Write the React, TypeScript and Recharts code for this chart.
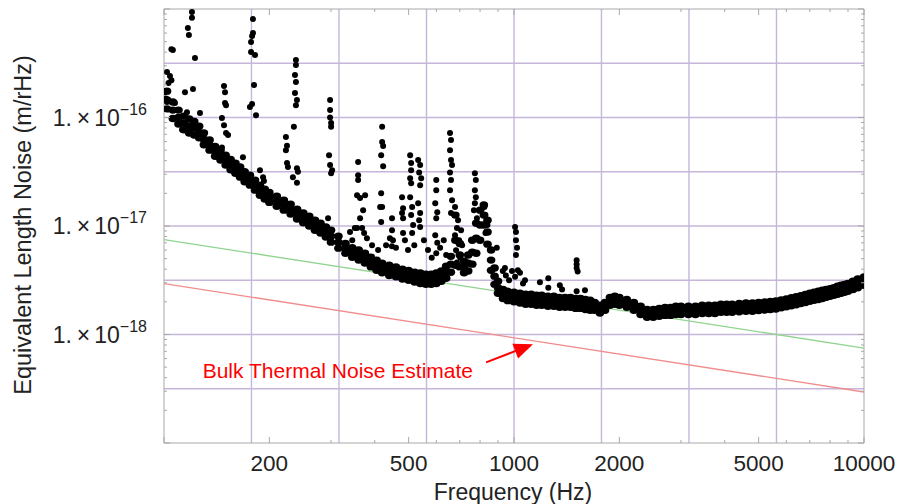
import { ComposedChart, Scatter, Line, XAxis, YAxis, ReferenceLine, Label } from "recharts"

// noise values below are in units of 1e-18 m/rHz
const UNIT = 1e-18

// measured spectrum: the dense floor, read as upper edge / middle / lower edge of the band
const bandFreq = [
  102, 106, 110, 114, 118, 122, 126, 130, 135, 140, 145, 150, 155, 160, 165, 170, 176, 182, 188, 194,
  200, 210, 220, 230, 240, 250, 260, 270, 280, 290, 300, 315, 330, 345, 360, 375, 390, 405, 420, 440,
  460, 480, 500, 520, 540, 560, 580, 600, 620, 640, 660, 680, 700, 720, 740, 760, 780, 800, 820, 840,
  860, 880, 900, 930, 960, 1000, 1040, 1080, 1120, 1160, 1200, 1250, 1300, 1350, 1400, 1450, 1500, 1550, 1600, 1650,
  1700, 1760, 1820, 1880, 1940, 2000, 2100, 2200, 2300, 2400, 2500, 2600, 2700, 2800, 2900, 3000, 3150, 3300, 3450, 3600,
  3750, 3900, 4050, 4200, 4400, 4600, 4800, 5000, 5200, 5400, 5600, 5800, 6000, 6200, 6400, 6600, 6800, 7000, 7200, 7400,
  7600, 7800, 8000, 8200, 8400, 8600, 8800, 9000, 9300, 9600, 10000,
]
const bandHi = [
  175, 139, 117, 103, 97, 92, 83, 72, 62, 54, 50, 45, 41, 38, 35, 31.6, 29.4, 26.5, 23.8, 21.8,
  20.4, 18.8, 17.3, 15.9, 14.3, 13.2, 12.3, 11.3, 10.6, 9.8, 9.15, 8.05, 6.9, 6.3, 6.0, 5.6, 5.15, 4.85, 4.55, 4.35,
  4.2, 4.0, 3.9, 3.75, 3.7, 3.6, 3.6, 3.7, 3.85, 4.25, 5.25, 12.6, 6.9, 4.75, 5.4, 7.4, 10.6, 14, 15.6, 11.3,
  6.0, 4.1, 3.1, 2.6, 2.5, 2.45, 2.4, 2.35, 2.35, 2.3, 2.3, 2.25, 2.25, 2.2, 2.2, 2.2, 2.15, 2.15, 2.1, 2.07,
  1.97, 1.86, 1.97, 2.2, 2.25, 2.2, 2.1, 1.97, 1.82, 1.7, 1.7, 1.74, 1.78, 1.78, 1.82, 1.82, 1.82, 1.82, 1.86, 1.86,
  1.86, 1.9, 1.9, 1.9, 1.93, 1.95, 1.95, 1.97, 1.99, 2.02, 2.04, 2.08, 2.13, 2.18, 2.23, 2.28, 2.34, 2.4, 2.45, 2.5,
  2.56, 2.6, 2.65, 2.7, 2.78, 2.84, 2.9, 2.95, 3.1, 3.25, 3.4,
]
const bandMid = [
  145, 117, 100, 89, 83, 80, 73, 63, 55.6, 49, 45, 40.5, 37, 34, 31.2, 28.4, 26.5, 23.8, 21.4, 19.6,
  18.3, 16.9, 15.6, 14.3, 12.9, 11.8, 11.1, 10.2, 9.55, 8.8, 8.05, 7.1, 6.25, 5.75, 5.4, 5.05, 4.65, 4.35, 4.1, 3.9,
  3.75, 3.6, 3.5, 3.35, 3.3, 3.25, 3.25, 3.3, 3.45, 3.75, 4.45, 7.4, 5.4, 4.2, 4.55, 5.75, 7.7, 10.2, 12.6, 8.8,
  4.85, 3.45, 2.7, 2.35, 2.25, 2.2, 2.15, 2.1, 2.1, 2.07, 2.07, 2.02, 2.02, 1.97, 1.97, 1.97, 1.93, 1.93, 1.9, 1.86,
  1.82, 1.72, 1.82, 2.02, 2.07, 2.02, 1.93, 1.82, 1.67, 1.56, 1.56, 1.6, 1.63, 1.63, 1.67, 1.67, 1.67, 1.67, 1.7, 1.7,
  1.7, 1.74, 1.74, 1.74, 1.77, 1.79, 1.79, 1.81, 1.83, 1.86, 1.88, 1.92, 1.96, 2.0, 2.05, 2.1, 2.15, 2.2, 2.25, 2.3,
  2.35, 2.4, 2.45, 2.5, 2.56, 2.6, 2.65, 2.7, 2.84, 2.95, 3.1,
]
const bandLo = [
  120, 98, 87, 77, 72, 69, 65, 56, 50, 44, 40.5, 36.4, 33, 30.6, 28.2, 25.6, 23.8, 21.4, 19.2, 17.7,
  16.5, 15.2, 14.0, 12.9, 11.6, 10.7, 10.0, 9.15, 8.6, 7.9, 7.1, 6.25, 5.6, 5.15, 4.85, 4.55, 4.2, 3.9, 3.7, 3.5,
  3.4, 3.25, 3.16, 3.05, 2.95, 2.9, 2.9, 2.95, 3.1, 3.3, 3.75, 4.35, 4.2, 3.7, 3.85, 4.45, 5.6, 7.4, 10.2, 6.8,
  3.9, 2.9, 2.4, 2.15, 2.05, 2.0, 1.95, 1.9, 1.9, 1.86, 1.86, 1.82, 1.82, 1.78, 1.78, 1.78, 1.74, 1.74, 1.7, 1.67,
  1.67, 1.58, 1.67, 1.86, 1.9, 1.86, 1.78, 1.67, 1.53, 1.44, 1.44, 1.47, 1.5, 1.5, 1.53, 1.53, 1.53, 1.53, 1.56, 1.56,
  1.56, 1.6, 1.6, 1.6, 1.62, 1.64, 1.64, 1.66, 1.68, 1.7, 1.72, 1.76, 1.8, 1.84, 1.88, 1.93, 1.97, 2.02, 2.07, 2.1,
  2.15, 2.2, 2.25, 2.3, 2.35, 2.4, 2.45, 2.5, 2.6, 2.7, 2.84,
]

// resonance lines and scattered points standing above the floor: [Hz, noise]
const spikes: [number, number][] = [
  [106, 419], [105, 425], [102, 262], [104, 241], [105, 221], [103, 208], [100.7, 171], [101.3, 150], [102, 139],
  [107.5, 136], [114.8, 171], [120.2, 938], [120.2, 830], [117, 668], [117.8, 576], [122.6, 354], [121, 183],
  [116.3, 112], [126.7, 110], [112.6, 77], [148.4, 195], [149.4, 171], [149.4, 136], [150.4, 130], [146.4, 99],
  [148.4, 85], [150.4, 72], [152.4, 69], [146.4, 53], [168.1, 43], [179.6, 808], [179.6, 601], [178.5, 564],
  [177.3, 497], [177.3, 401], [182, 377], [180.8, 199], [176, 125], [178.5, 133], [183.2, 105], [188, 32.7],
  [191.9, 28.2], [193, 26], [238.2, 339], [238.2, 304], [236.7, 246], [238.2, 212], [236.7, 168], [239.8, 145],
  [238.2, 130], [235, 82], [223, 66], [224.6, 55], [223, 50], [224.6, 38], [226, 35], [239.8, 34], [241.4, 31.6],
  [233.5, 28.2], [239.8, 25], [298.2, 145], [298.2, 117], [298.2, 100], [300.2, 89], [300.2, 82], [296.2, 45],
  [298.2, 36.4], [302.2, 32.7], [300.2, 30.6], [294.3, 11.8],
  [358.6, 38.8], [358.6, 29.4], [358.6, 26.5], [356.2, 19.2], [363.3, 18.1], [375.5, 19.2], [370.6, 14],
  [363.3, 11.8], [356.2, 9.6], [368.2, 9.6], [373, 8.6],
  [420, 82], [420, 59.5], [422.8, 54.5], [417.3, 45], [422.8, 35.6], [417.3, 20], [414.5, 15], [420, 15], [417.3, 10.9],
  [448.2, 11.8], [448.2, 9.15], [451, 7.4], [448, 6.5],
  [478.8, 18.4], [482, 14.6], [478.8, 13.2], [482, 11.8], [482, 8.6],
  [505, 45], [508.3, 38], [508.3, 32.7], [505, 27.5], [508.3, 24.8], [505, 18.4], [511.7, 15], [508.3, 12.6],
  [515, 10.2], [511.7, 8.6],
  [532.3, 40.5], [539.3, 36.4], [535.8, 31.2], [543, 27.5], [539.3, 23.8], [532.3, 16.2], [539.3, 13.2],
  [535.8, 11.3], [539.3, 9.8],
  [599.6, 26.5], [599.6, 21.4], [595.6, 16.2], [603.6, 13.4], [599.6, 11.8], [595.6, 8.2], [603.6, 7], [599.6, 5.6],
  [656.4, 72], [660.8, 62], [656.4, 50], [660.8, 40.5], [665.2, 36.4], [656.4, 31.2], [660.8, 26.5], [656.4, 21.4],
  [665.2, 17.3], [660.8, 13.2],
  [678.4, 15], [683, 12.6], [692, 11.3], [687, 9.6], [678.4, 8.2], [697, 7.4], [706, 9.15], [711, 6.65],
  [683, 5.98], [702, 5.1], [715, 4.6], [687, 4.6],
  [773, 30.6], [778, 26.5], [773, 21.4], [778, 18.4], [773, 16.2], [768, 14], [783.5, 11.8],
  [823, 15], [828.6, 12.6], [839.7, 10.2], [828.6, 8.6],
  [893, 6.3], [929, 3.85], [948, 3.5], [987, 3.85], [968, 3.16],
  [1007, 9.8], [1013, 8.8], [1013, 7.4], [1020, 6.3], [1013, 5.4], [942, 4.1], [1026, 3.9], [1007, 3.4],
  [1040, 3.7], [1061, 2.95], [1075, 3.16],
  [1253, 3.3], [1253, 2.7], [1510, 4.84], [1510, 4.45], [1510, 4.1], [1520, 3.8], [1372, 2.6], [1510, 2.5],
  // low-lying scatter just above the floor
  [340, 8.8], [345, 7.4], [351, 9.6], [380, 7.7], [393, 6.65], [409, 6.0], [431, 6.65], [442, 7.7], [460, 6.3],
  [488, 7.4], [498, 6.0], [519, 6.65], [553, 7.4], [568, 6.0], [582, 5.1], [615, 6.3], [630, 7.4], [640, 5.4],
  [1186, 3.03], [1352, 2.84], [1595, 2.56],
]

// straight model lines (log-log), end points only
const modelFreq = [100, 10000]
const totalModel = [7.5, 0.75]
const bulkThermal = [2.95, 0.295]

// annotation arrow, start and tip
const arrowFreq = [832, 1133]
const arrowNoise = [0.554, 0.812]

// axes
const xLabels = [200, 500, 1000, 2000, 5000, 10000]
const xTicks = [100, 200, 300, 400, 500, 600, 700, 800, 900, 1000, 2000, 3000, 4000, 5000, 6000, 7000, 8000, 9000, 10000]
const yDecades = [-19, -18, -17, -16]
const yMantissas = [1, 2, 3, 4, 5, 6, 7, 8, 9]
const yLabelExps = [-16, -17, -18]
const gridFreqs = [177.8, 316.2, 562.3, 1000, 1778, 3162, 5623]
const gridLevels = [3.162e-16, 1e-16, 3.162e-17, 1e-17, 3.162e-18, 1e-18, 3.162e-19]

const yTicks = [...yDecades.flatMap((e) => yMantissas.map((m) => m * 10 ** e)), 1e-15]

const FONT = "'Liberation Sans', Arial, Helvetica, sans-serif"
const FRAME = "#a8a8a8"
const GRID = "#c6b6da"
const INK = "#222222"

const bandPoints = bandFreq.flatMap((f, i) => [
  { f, v: bandHi[i] * UNIT },
  { f, v: bandMid[i] * UNIT },
  { f, v: bandLo[i] * UNIT },
])
const spikePoints = spikes.map(([f, v]) => ({ f, v: v * UNIT }))
const greenData = modelFreq.map((f, i) => ({ f, v: totalModel[i] * UNIT }))
const redData = modelFreq.map((f, i) => ({ f, v: bulkThermal[i] * UNIT }))

const isDecade = (v: number) => {
  const l = Math.log10(v)
  return Math.abs(l - Math.round(l)) < 1e-6
}

function BottomTick({ x, y, payload }: any) {
  const labeled = xLabels.includes(payload.value)
  const len = labeled || isDecade(payload.value) ? 6 : 3
  return (
    <g>
      <line x1={x} x2={x} y1={y} y2={y - len} stroke={FRAME} />
      {labeled && (
        <text x={x} y={y + 28} textAnchor="middle" fontSize={22.5} fontFamily={FONT} fill={INK}>
          {payload.value}
        </text>
      )}
    </g>
  )
}

function TopTick({ x, y, payload }: any) {
  const len = xLabels.includes(payload.value) || isDecade(payload.value) ? 6 : 3
  return <line x1={x} x2={x} y1={y} y2={y + len} stroke={FRAME} />
}

function LeftTick({ x, y, payload }: any) {
  const major = isDecade(payload.value)
  const exp = Math.round(Math.log10(payload.value))
  const labeled = major && yLabelExps.includes(exp)
  return (
    <g>
      <line x1={x} x2={x + (major ? 6 : 3)} y1={y} y2={y} stroke={FRAME} />
      {labeled && (
        <text x={x - 17} y={y + 8} textAnchor="end" fontSize={23} fontFamily={FONT} fill={INK}>
          <tspan>1.</tspan>
          <tspan dx={5}>×</tspan>
          <tspan dx={4}>10</tspan>
          <tspan dy={-11} fontSize={16}>{`\u2212${-exp}`}</tspan>
        </text>
      )}
    </g>
  )
}

function RightTick({ x, y, payload }: any) {
  const major = isDecade(payload.value)
  return <line x1={x} x2={x - (major ? 6 : 3)} y1={y} y2={y} stroke={FRAME} />
}

// band dots are drawn a little wider so neighbouring columns merge into a solid trace
function BandDot({ cx, cy }: any) {
  return <ellipse cx={cx} cy={cy} rx={4.3} ry={3.7} fill="#000" />
}

function Dot({ cx, cy }: any) {
  return <circle cx={cx} cy={cy} r={3} fill="#000" />
}

function Arrow({ x1, y1, x2, y2 }: any) {
  const len = Math.hypot(x2 - x1, y2 - y1)
  const ux = (x2 - x1) / len
  const uy = (y2 - y1) / len
  const bx = x2 - ux * 19
  const by = y2 - uy * 19
  const head = `${x2},${y2} ${bx - uy * 8},${by + ux * 8} ${bx + uy * 8},${by - ux * 8}`
  return (
    <g>
      <line x1={x1} y1={y1} x2={bx + ux * 2} y2={by + uy * 2} stroke="#ff0000" strokeWidth={2} />
      <polygon points={head} fill="#ff0000" />
      <text x={x1 - 13} y={y1 + 16} textAnchor="end" fontSize={21} fontFamily={FONT} fill="#ff0000">
        Bulk Thermal Noise Estimate
      </text>
    </g>
  )
}

export default function App() {
  return (
    <div style={{ position: "absolute", left: 0, top: 0, background: "#fff" }}>
      <ComposedChart width={899} height={504} margin={{ top: 8, right: 34, bottom: 60, left: 163 }}>
        <XAxis
          xAxisId="f"
          dataKey="f"
          type="number"
          scale="log"
          domain={[100, 10000]}
          allowDataOverflow
          ticks={xTicks}
          interval={0}
          height={1}
          tickSize={0}
          tickMargin={0}
          tickLine={false}
          axisLine={{ stroke: FRAME }}
          tick={<BottomTick />}
        >
          <Label
            content={() => (
              <text x={513} y={500} textAnchor="middle" fontSize={23} fontFamily={FONT} fill={INK}>
                Frequency (Hz)
              </text>
            )}
          />
        </XAxis>
        <XAxis
          xAxisId="top"
          orientation="top"
          dataKey="f"
          type="number"
          scale="log"
          domain={[100, 10000]}
          allowDataOverflow
          ticks={xTicks}
          interval={0}
          height={1}
          tickSize={0}
          tickMargin={0}
          tickLine={false}
          axisLine={{ stroke: FRAME }}
          tick={<TopTick />}
        />
        <YAxis
          yAxisId="v"
          dataKey="v"
          type="number"
          scale="log"
          domain={[1e-19, 1e-15]}
          allowDataOverflow
          ticks={yTicks}
          interval={0}
          width={1}
          tickSize={0}
          tickMargin={0}
          tickLine={false}
          axisLine={{ stroke: FRAME }}
          tick={<LeftTick />}
        >
          <Label
            content={() => (
              <text
                transform="translate(31,225) rotate(-90)"
                textAnchor="middle"
                fontSize={23.5}
                fontFamily={FONT}
                fill={INK}
              >
                Equivalent Length Noise (m/rHz)
              </text>
            )}
          />
        </YAxis>
        <YAxis
          yAxisId="right"
          orientation="right"
          dataKey="v"
          type="number"
          scale="log"
          domain={[1e-19, 1e-15]}
          allowDataOverflow
          ticks={yTicks}
          interval={0}
          width={1}
          tickSize={0}
          tickMargin={0}
          tickLine={false}
          axisLine={{ stroke: FRAME }}
          tick={<RightTick />}
        />
        {gridFreqs.map((g) => (
          <ReferenceLine key={`gx${g}`} xAxisId="f" yAxisId="v" x={g} stroke={GRID} strokeWidth={1.4} />
        ))}
        {gridLevels.map((g) => (
          <ReferenceLine key={`gy${g}`} xAxisId="f" yAxisId="v" y={g} stroke={GRID} strokeWidth={1.4} />
        ))}
        <Scatter
          xAxisId="f"
          yAxisId="v"
          data={bandPoints}
          dataKey="v"
          shape={<BandDot />}
          isAnimationActive={false}
        />
        <Scatter
          xAxisId="f"
          yAxisId="v"
          data={spikePoints}
          dataKey="v"
          shape={<Dot />}
          isAnimationActive={false}
        />
        <Line
          xAxisId="f"
          yAxisId="v"
          data={greenData}
          dataKey="v"
          type="linear"
          stroke="#8fd48f"
          strokeWidth={1.3}
          dot={false}
          isAnimationActive={false}
        />
        <Line
          xAxisId="f"
          yAxisId="v"
          data={redData}
          dataKey="v"
          type="linear"
          stroke="#f08c8c"
          strokeWidth={1.3}
          dot={false}
          isAnimationActive={false}
        />
        <ReferenceLine
          xAxisId="f"
          yAxisId="v"
          segment={[
            { x: arrowFreq[0], y: arrowNoise[0] * UNIT },
            { x: arrowFreq[1], y: arrowNoise[1] * UNIT },
          ]}
          shape={(p: any) => <Arrow {...p} />}
        />
      </ComposedChart>
    </div>
  )
}
